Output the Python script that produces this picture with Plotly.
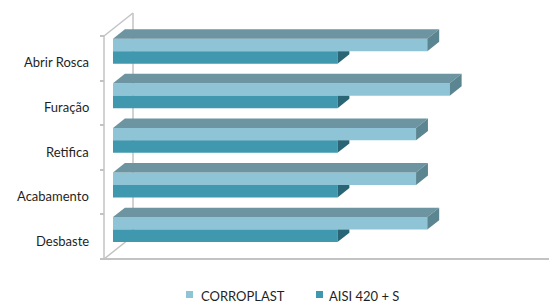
import plotly.graph_objects as go

# ---------------- data ----------------
categories = ["Desbaste", "Acabamento", "Retifica", "Furação", "Abrir Rosca"]
corroplast = [1.40, 1.35, 1.35, 1.50, 1.40]
aisi = [1.0, 1.0, 1.0, 1.0, 1.0]
series_names = ["CORROPLAST", "AISI 420 + S"]
x_max = 2.0

# ---------------- style / geometry ----------------
OFF = 8                  # page body margin of the browser
W, H = 557 - OFF, 303 - OFF
ML, MR, MT = 100 - OFF, 4, 0
PLOT_BOTTOM = 270 - OFF
MB = H - PLOT_BOTTOM
PLOT_W = W - ML - MR
PLOT_H = H - MT - MB
X_SCALE = 224.5          # px per value unit
Y_SCALE = 44.6           # px per category
ZERO_PX = 104 - OFF      # px of value 0 on front plane
FLOOR_PX = 259 - OFF     # px of floor front edge

DX = 29 / X_SCALE        # full depth offset (value units)
DY = 23 / Y_SCALE        # full depth offset (category units)
D0, D1 = 0.31, 0.72      # bar depth range
BAR_W = 0.28             # bar thickness (category units)

light = dict(front="#8FC3D6", top="#6D95A1", end="#5B8591")
dark = dict(front="#3F98AE", top="#2F7688", end="#2A6575")
axis_col = "#C3C3C3"
txt_font = dict(family="Lato", size=13, color="#1F1F1F")

x_lo = -(ZERO_PX - ML) / X_SCALE
x_hi = x_lo + PLOT_W / X_SCALE
y_hi = (FLOOR_PX - MT) / Y_SCALE
y_lo = y_hi - PLOT_H / Y_SCALE

fig = go.Figure()

def poly(xs, ys, color):
    fig.add_trace(go.Scatter(x=xs + [xs[0]], y=ys + [ys[0]], mode="lines",
                             fill="toself", fillcolor=color,
                             line=dict(width=0, color=color),
                             hoverinfo="skip", showlegend=False))

n = len(categories)
# front faces as bars
for name, vals, lo, col in [(series_names[0], corroplast, 0.5, light),
                            (series_names[1], aisi, 0.5 - BAR_W, dark)]:
    fig.add_trace(go.Bar(
        y=list(range(n)), x=vals, orientation="h",
        base=D0 * DX, offset=lo + D0 * DY, width=BAR_W,
        marker=dict(color=col["front"], line=dict(width=0)),
        name=name, showlegend=False))

# top + end faces
for i in range(n):
    vl, vd = corroplast[i], aisi[i]
    # light bar (upper)
    h0, h1 = 0.5, 0.5 + BAR_W
    poly([D0 * DX, vl + D0 * DX, vl + D1 * DX, D1 * DX],
         [h1 + D0 * DY + i, h1 + D0 * DY + i, h1 + D1 * DY + i, h1 + D1 * DY + i], light["top"])
    poly([vl + D0 * DX, vl + D0 * DX, vl + D1 * DX, vl + D1 * DX],
         [h0 + D0 * DY + i, h1 + D0 * DY + i, h1 + D1 * DY + i, h0 + D1 * DY + i], light["end"])
    # dark bar (lower) - end face, clipped by light bar front face
    g0, g1 = 0.5 - BAR_W, 0.5
    if vd <= vl:
        poly([vd + D0 * DX, vd + D0 * DX, vd + D1 * DX, vd + D1 * DX],
             [g0 + D0 * DY + i, g1 + D0 * DY + i, g1 + D0 * DY + i, g0 + D1 * DY + i], dark["end"])
    else:
        poly([vl + D0 * DX, vd + D0 * DX, vd + D1 * DX, vl + D1 * DX],
             [g1 + D0 * DY + i, g1 + D0 * DY + i, g1 + D1 * DY + i, g1 + D1 * DY + i], dark["top"])
        poly([vd + D0 * DX, vd + D0 * DX, vd + D1 * DX, vd + D1 * DX],
             [g0 + D0 * DY + i, g1 + D0 * DY + i, g1 + D1 * DY + i, g0 + D1 * DY + i], dark["end"])

# walls / floor edges (below traces)
shapes = []
def seg(x0, y0, x1, y1, w=1.5):
    shapes.append(dict(type="line", xref="x", yref="y", x0=x0, y0=y0, x1=x1, y1=y1,
                       line=dict(color=axis_col, width=w), layer="below"))
seg(0, 0, 0, n)                 # front vertical axis
seg(0, n, DX, n + DY)           # top diagonal
seg(DX, DY, DX, n + DY)         # back wall edge
seg(0, 0, DX, DY)               # floor left diagonal
seg(0, 0, x_max, 0, 2)          # floor front edge

# legend (manual), positions given in window pixels
def px_x(p): return (p - OFF - ML) / PLOT_W
def px_y(p): return (MT + PLOT_H - (p - OFF)) / PLOT_H
annotations = []
for name, col, sx, tx in [(series_names[0], light["front"], 186, 199),
                          (series_names[1], dark["front"], 316, 327)]:
    shapes.append(dict(type="rect", xref="paper", yref="paper",
                       x0=px_x(sx), x1=px_x(sx + 7), y0=px_y(298), y1=px_y(291),
                       fillcolor=col, line=dict(width=0)))
    annotations.append(dict(text=name, xref="paper", yref="paper", x=px_x(tx), y=px_y(295.5),
                            xanchor="left", yanchor="middle", showarrow=False, font=txt_font))

# category labels
for i, c in enumerate(categories):
    annotations.append(dict(text=c, xref="x", yref="y", x=0, y=i + 0.41, xanchor="right",
                            yanchor="middle", xshift=-13, showarrow=False, font=txt_font))

fig.update_layout(
    width=W, height=H, margin=dict(l=ML, r=MR, t=MT, b=MB),
    paper_bgcolor="white", plot_bgcolor="white",
    barmode="overlay", showlegend=False,
    shapes=shapes, annotations=annotations,
    xaxis=dict(range=[x_lo, x_hi], showgrid=False, zeroline=False, showticklabels=False,
               showline=False, ticks=""),
    yaxis=dict(range=[y_lo, y_hi], showgrid=False, zeroline=False, showticklabels=False,
               showline=False, tickmode="array", tickvals=list(range(n + 1)),
               ticks="outside", ticklen=4, tickwidth=1.5, tickcolor=axis_col,
               anchor="free", position=(ZERO_PX - ML) / PLOT_W),
)

fig.write_html("out.html")
